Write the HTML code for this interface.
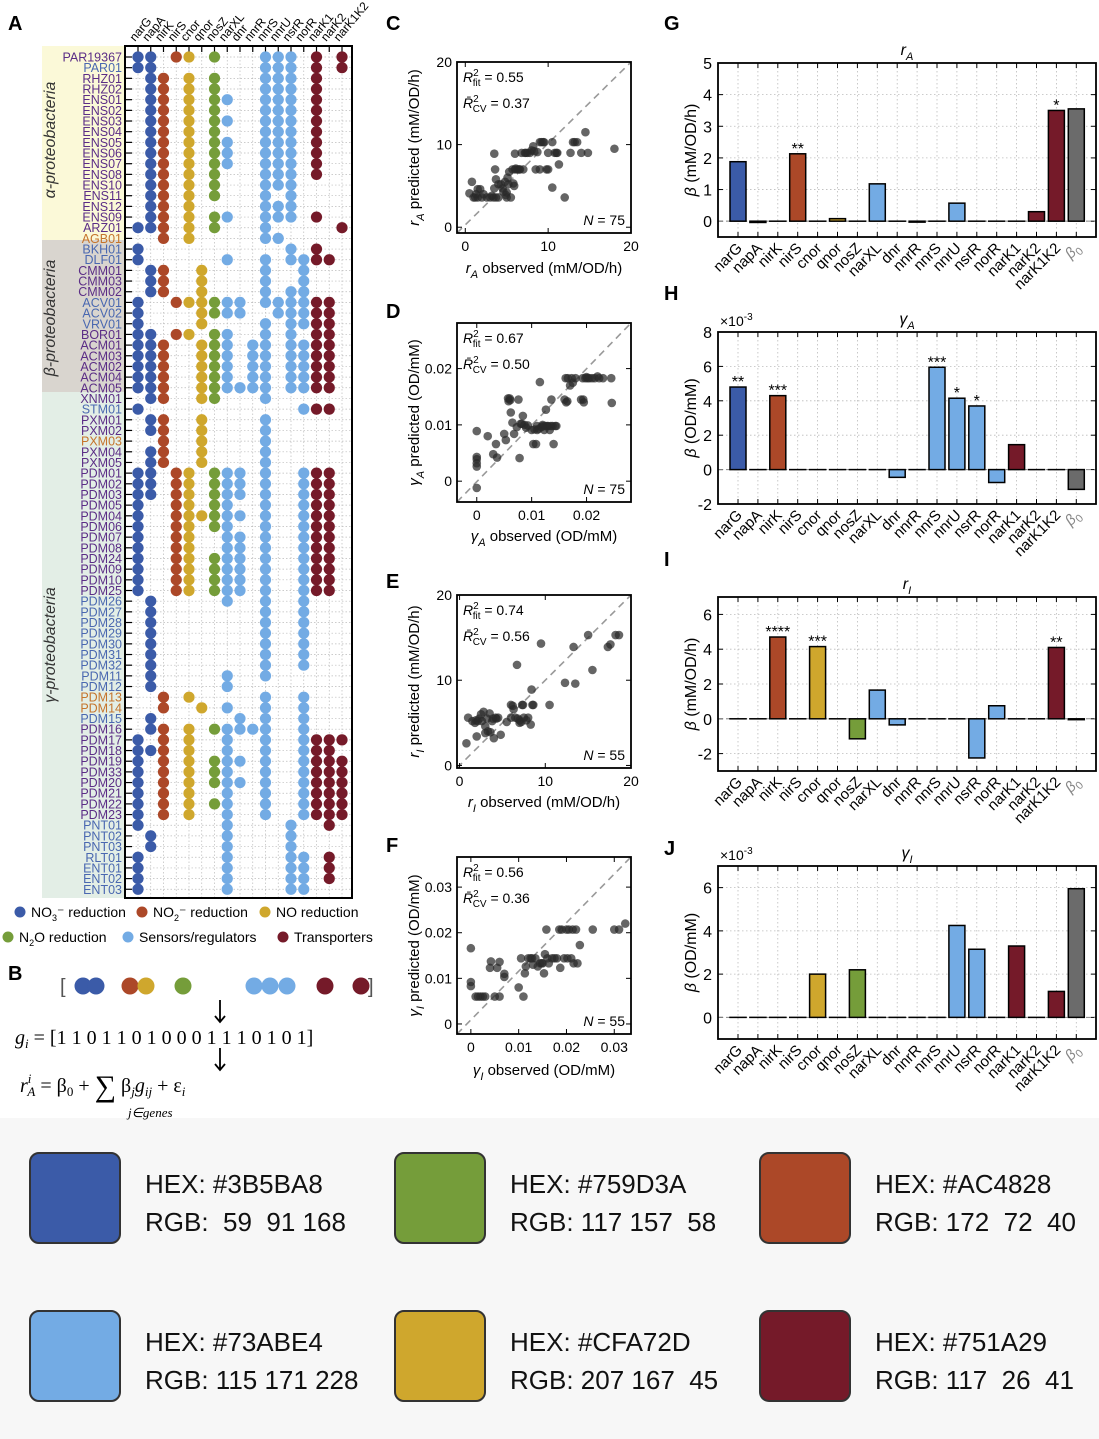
<!DOCTYPE html>
<html><head><meta charset="utf-8"><style>
html,body{margin:0;padding:0;background:#fff;}
svg{display:block;font-family:"Liberation Sans",sans-serif;}
</style></head><body>
<svg id="fig" width="1099" height="1439" viewBox="0 0 1099 1439" xmlns="http://www.w3.org/2000/svg">
<rect x="0" y="1118" width="1099" height="321" fill="#f7f7f7"/>
</svg>
<script>
// ---------------- DATA ----------------
const genes = ['narG','napA','nirK','nirS','cnor','qnor','nosZ','narXL','dnr','nnrR','nnrS','nnrU','nsrR','norR','narK1','narK2','narK1K2'];
const geneColors = ['#3B5BA8','#3B5BA8','#AC4828','#AC4828','#CFA72D','#CFA72D','#759D3A','#73ABE4','#73ABE4','#73ABE4','#73ABE4','#73ABE4','#73ABE4','#73ABE4','#751A29','#751A29','#751A29'];
const strains = ['PAR19367','PAR01','RHZ01','RHZ02','ENS01','ENS02','ENS03','ENS04','ENS05','ENS06','ENS07','ENS08','ENS10','ENS11','ENS12','ENS09','ARZ01','AGB01','BKH01','DLF01','CMM01','CMM03','CMM02','ACV01','ACV02','VRV01','BOR01','ACM01','ACM03','ACM02','ACM04','ACM05','XNM01','STM01','PXM01','PXM02','PXM03','PXM04','PXM05','PDM01','PDM02','PDM03','PDM05','PDM04','PDM06','PDM07','PDM08','PDM24','PDM09','PDM10','PDM25','PDM26','PDM27','PDM28','PDM29','PDM30','PDM31','PDM32','PDM11','PDM12','PDM13','PDM14','PDM15','PDM16','PDM17','PDM18','PDM19','PDM33','PDM20','PDM21','PDM22','PDM23','PNT01','PNT02','PNT03','RLT01','ENT01','ENT02','ENT03'];
const strainColor = {b:'#4a68b0',p:'#5b2d86',o:'#c5742c'};
const strainCls = ('p'+'b'+'p'.repeat(15)+'o'+'bb'+'ppp'+'bbb'+'p'+'ppppp'+'p'+'b'+'pp'+'o'+'pp'+'p'.repeat(12)+'b'.repeat(9)+'oo'+'b'+'p'+'p'.repeat(8)+'b'.repeat(7)).split('');
const presence = [
'0,1,3,4,6,10,11,12,14,16','0,1,10,11,12,14,16','1,2,4,6,10,11,12,14','1,2,4,6,10,11,12,14','1,2,4,6,7,10,11,12,14','1,2,4,6,10,11,12,14','1,2,4,6,7,10,11,12,14','1,2,4,6,10,11,12,14','1,2,4,6,7,10,11,12,14','1,2,4,6,7,10,11,12,14','1,2,4,6,7,10,11,12,14','1,2,4,6,10,11,12,14','1,2,4,6,10,11,12','1,2,4,6,10,12','1,2,4,10,11,12','1,2,4,6,7,10,11,12,14','0,1,2,4,6,10,16','2,4,10,11',
'0,12,14','0,7,10,12,13,14,15','1,2,5,10,13','1,2,5,10,13','1,2,5,10,12,13','0,3,4,5,6,7,8,10,11,12,13,14,15','0,5,6,7,8,11,12,13,14,15','0,5,10,12,13,14,15','0,1,3,4,6,7,10,12,14,15','0,1,2,5,6,7,9,10,12,13,14,15','0,1,2,5,6,7,9,10,12,13,14,15','0,1,2,5,6,7,9,10,12,13,14,15','0,1,2,5,6,7,9,10,12,13,14,15','0,1,2,5,6,7,8,9,10,12,13,14,15',
'1,2,5,6,10','0,13,14,15','1,2,5,10','1,2,5,10','2,5,10','1,2,5,10','1,2,5,10','0,1,3,4,6,7,8,10,13,14,15','0,1,3,4,6,7,8,10,13,14,15','0,1,3,4,6,7,8,10,13,14,15','0,3,4,6,7,10,13,14,15','0,3,4,5,6,7,8,10,13,14,15','0,3,4,6,7,10,13,14,15','0,3,4,7,8,10,13,14,15','0,3,4,7,8,10,13,14,15','0,3,4,6,7,8,10,13,14,15','0,3,4,6,7,8,10,13,14,15','0,3,4,6,7,8,10,13,14,15','0,3,4,6,7,8,10,13,14,15',
'1,7,10,13','1,10,13','1,10,13','1,10,13','1,10,13','1,10,13','1,10,13','1,7,10','1,7','2,4,10,13','2,5,7,10,13','1,8,10,13','1,2,4,6,7,8,9,10,13','0,2,4,7,10,13,14,15,16','0,1,2,4,7,10,13,14,15','0,2,4,6,7,8,10,13,14,15,16','0,2,4,6,7,10,13,14,15,16','0,2,4,6,7,8,10,13,14,15,16','0,2,4,7,10,13,14,15,16','0,2,4,6,7,10,13,14,15,16','0,2,4,7,10,13,14,15,16','0,7,12,15','1,7,12','1,7,12','0,7,12,13,15','0,7,12,13,15','0,7,12,13,15','0,7,12,13'];

const cPoints = [[0.5,4.1],[0.8,5.5],[1,3.6],[1.2,3.6],[1.5,3.6],[1.5,4.6],[1.8,4.6],[2,3.6],[3,3.6],[3.5,8.9],[3.5,4.7],[3.6,7],[3.7,5.8],[3.7,3.6],[4,3.6],[4,5.2],[4.3,5.2],[4.5,4.7],[4.8,5.5],[5,3.6],[5,4.2],[5.2,5.2],[5.5,3.6],[5.3,6.7],[5.7,7],[5.8,5.3],[6,7],[6,8.9],[6.3,7],[6.6,7],[6.8,9],[7,7],[7.2,9],[7.5,9],[7.8,9],[8,9.3],[8.2,9.8],[8.5,7],[8.7,9.1],[9,10.3],[9.2,10.3],[9,7],[9.5,10.3],[9.8,7],[10,7],[10,9],[10.5,4.8],[10.5,10.3],[10.8,9],[11,9],[11.3,7.6],[12,3.6],[12.7,9],[13,10.3],[13.5,10.3],[14,9],[14.5,11.5],[14.8,9],[18,9.5],[2.2,4],[1.3,4],[3.2,3.8],[4.6,4.3],[5.1,6],[6.5,7],[7.3,9],[9.4,10.3],[11.1,9],[13.2,10.3],[8.3,9.2],[3.4,3.6],[2.6,3.6],[4.9,3.9],[5.9,5],[6.1,7.1]];
const dPoints = [[0,-1.2],[0,2.6],[0,3.2],[0,3.9],[0,4.3],[0,8.9],[2,8],[3,4.8],[3.5,6.6],[3.7,4.2],[5,8.4],[5.3,7.3],[5.7,14.7],[5.8,14.2],[6,14.7],[6.2,12.2],[6.5,10.4],[6.8,8.4],[7.3,9.6],[7.6,14.5],[7.8,4.1],[8,10.2],[8.4,11.6],[8.7,10],[9.3,9.9],[10,9.1],[10.3,6.6],[10.8,6.6],[11,9.8],[11.3,9.3],[11.5,17.6],[11.8,9.6],[12,10],[12.3,9.1],[12.6,12.7],[12.8,9.8],[13,9.8],[13.3,9.1],[13.6,14.5],[13.8,9.8],[14,6.6],[14.3,9.8],[16,14.5],[16.2,18.3],[16.3,14],[16.6,18.3],[17,17],[17.3,18.3],[17.5,17.5],[18,18.3],[19,14.5],[19.3,18.3],[19.5,14],[19.8,18.3],[20,18.5],[20.5,18.3],[21,18.3],[21.5,18.3],[22,18.6],[22.3,18.3],[23,18.3],[24.5,18.3],[24.6,13.9],[12,9.8],[12.5,9.8],[13.5,9.8],[14.5,9.8],[11,9.1],[8.2,10.2],[9,9.5],[16.5,14.2],[20.2,18.3],[19.4,14.5],[6.1,14.4],[10.5,9.2]];
const ePoints = [[0.8,2.6],[1,5.6],[1.5,5.2],[1.8,5],[2,3.4],[2.3,5.5],[2.6,5.2],[2.8,6.3],[3,3.8],[3,4.6],[3.2,5.5],[3.5,6.1],[3.6,3.9],[3.8,5.2],[4,3.2],[4.2,5.6],[4.5,5.6],[4.8,3.6],[5.5,5.1],[6,5.6],[6,7.1],[6.3,6.6],[6.5,5.6],[6.7,11.8],[7,5.3],[7,5],[7.3,7.1],[7.5,5.6],[7.8,5.3],[8,5.6],[8.3,4.8],[8.4,8.9],[8.5,7.1],[9.5,14.3],[10.5,7.1],[12.3,9.7],[13.3,13.9],[13.5,9.6],[15,15.3],[15.5,11.2],[17.3,13.9],[17.6,14.2],[18.2,15.3],[18.6,15.3],[2.1,5.2],[2.5,6],[3.3,4],[4.3,5.5],[6.8,5.5],[7.2,5.1],[6.2,7],[7.4,7.1],[8.6,7.1],[3.9,5.5],[1.9,5.3]];
const fPoints = [[0,16.6],[0,9.2],[0,8.3],[1,6],[1.5,6],[2,6],[2.5,6],[3,6],[4,12.3],[4.2,13.7],[5,6],[5.5,12.3],[6,13.6],[6,6],[7,11],[7,10.3],[10,8],[10.5,14.4],[11,6],[11.3,11.1],[11.5,12.6],[12,14.4],[12.5,14.4],[13,13],[13.5,14.4],[14,12.6],[14.5,13.3],[15,13.3],[15.3,11.1],[15.5,15.3],[15.8,20.7],[16,14.4],[16.3,13.3],[17,14.4],[18,14.4],[18.5,20.7],[18.7,12.3],[19,20.7],[19.5,14.4],[20,20.7],[20.5,20.7],[21,14.4],[21.3,20.7],[21.5,13.3],[22,20.7],[22.3,13.3],[22.8,17.3],[25.5,20.7],[30,20.7],[31,20.7],[32.3,22],[12.8,14.4],[17.5,14.4],[20.2,14.4],[14.8,13.3]];

const barCats = ['narG','napA','nirK','nirS','cnor','qnor','nosZ','narXL','dnr','nnrR','nnrS','nnrU','nsrR','norR','narK1','narK2','narK1K2','β0'];
const gValues = [1.88,-0.04,0,2.13,0,0.08,0,1.18,0,-0.03,0,0.57,0,0,0,0.3,3.5,3.55];
const gStars = ['','','','**','','','','','','','','','','','','','*',''];
const hValues = [4.8,0,4.3,0,0,0,0,0,-0.45,0,5.95,4.15,3.7,-0.75,1.45,0,0,-1.15];
const hStars = ['**','','***','','','','','','','','***','*','*','','','','',''];
const iValues = [0,0,4.7,0,4.15,0,-1.15,1.65,-0.35,0,0,0,-2.25,0.75,0,0,4.1,-0.05];
const iStars = ['','','****','','***','','','','','','','','','','','','**',''];
const jValues = [0,0,0,0,2.0,0,2.2,0,0,0,0,4.25,3.15,0,3.3,0,1.2,5.95];

const swatchHex = ['#3B5BA8','#759D3A','#AC4828','#73ABE4','#CFA72D','#751A29'];
const swatchRgb = ['RGB:  59  91 168','RGB: 117 157  58','RGB: 172  72  40','RGB: 115 171 228','RGB: 207 167  45','RGB: 117  26  41'];

// ---------------- DRAW ----------------
const NS='http://www.w3.org/2000/svg';
const svg=document.getElementById('fig');
function mk(tag,attrs,parent,text){const e=document.createElementNS(NS,tag);for(const k in attrs)e.setAttribute(k,attrs[k]);if(text!==undefined)e.textContent=text;(parent||svg).appendChild(e);return e;}

[['A',8,30],['B',8,980],['C',386,30],['D',386,318],['E',386,588],['F',386,852],['G',664,30],['H',664,300],['I',664,566],['J',664,855]].forEach(p=>{
  const t=mk('text',{x:p[1],y:p[2],'font-size':20,'font-weight':'bold'},svg,p[0]);
  
  
});

// ---- Panel A ----
const AL=125,AR=352,AT=46,AB=898,col0=138,colStep=12.75,row0=57,rowStep=10.67;
const bands=[[42,AT,240,'#fbf9d8'],[42,240,392,'#d9d5cf'],[42,392,AB,'#e3eee6']];
bands.forEach((b,i)=>{
  const r=mk('rect',{x:b[0],y:b[1],width:AL-b[0],height:b[2]-b[1],fill:b[3]});
  
  
});
[['α-proteobacteria',55,140],['β-proteobacteria',55,318],['γ-proteobacteria',55,645]].forEach(g=>{
  const t=mk('text',{x:g[1],y:g[2],'font-size':16,'font-style':'italic','text-anchor':'middle',fill:'#333',transform:`rotate(-90 ${g[1]} ${g[2]})`},svg,g[0]);
  
  
});
const frameA=mk('rect',{x:AL,y:AT,width:AR-AL,height:AB-AT,fill:'#fff',stroke:'none'});


genes.forEach((g,i)=>{
  const x=col0+i*colStep;
  const l=mk('line',{x1:x,y1:AT,x2:x,y2:AB,stroke:'#bbb','stroke-width':0.7,'stroke-dasharray':'1.5 2'});
  
  
  const tk=mk('line',{x1:x,y1:AT,x2:x,y2:AT+6,stroke:'#000','stroke-width':1.2});
  
  
  const t=mk('text',{x:x-3,y:AT-4,'font-size':12,transform:`rotate(-50 ${x-3} ${AT-4})`},svg,g);
  
  
});
strains.forEach((s,r)=>{
  const y=row0+r*rowStep;
  const l=mk('line',{x1:AL,y1:y,x2:AR,y2:y,stroke:'#bbb','stroke-width':0.7,'stroke-dasharray':'1.5 2'});
  
  
  const tk=mk('line',{x1:AL,y1:y,x2:AL+7,y2:y,stroke:'#000','stroke-width':1.2});
  
  
  const t=mk('text',{x:AL-3,y:y+4.5,'font-size':12.5,'text-anchor':'end',fill:strainColor[strainCls[r]]},svg,s);
  
  
  presence[r].split(',').forEach(ci=>{
    const c=+ci;
    const d=mk('circle',{cx:col0+c*colStep,cy:y,r:5.6,fill:geneColors[c]});
    
    
  });
});
const frameA2=mk('rect',{x:AL,y:AT,width:AR-AL,height:AB-AT,fill:'none',stroke:'#000','stroke-width':2});



const legend=[['#3B5BA8',20,917,'NO','3','⁻ reduction'],['#AC4828',142,917,'NO','2','⁻ reduction'],['#CFA72D',265,917,'NO reduction','',''],['#759D3A',8,942,'N','2','O reduction'],['#73ABE4',128,942,'Sensors/regulators','',''],['#751A29',283,942,'Transporters','','']];
legend.forEach(L=>{
  const c=mk('circle',{cx:L[1],cy:L[2]-5,r:5.5,fill:L[0]});
  
  
  const t=mk('text',{x:L[1]+11,y:L[2],'font-size':14});
  
  
  mk('tspan',{},t,L[3]);
  if(L[4]){mk('tspan',{'font-size':9,dy:4},t,L[4]);mk('tspan',{'font-size':14,dy:-4},t,L[5]);}
});

const bTxt=mk('text',{x:60,y:993,'font-size':20,fill:'#555'},svg,'[');


const bTxt2=mk('text',{x:368,y:993,'font-size':20,fill:'#555'},svg,']');


[[83,'#3B5BA8'],[96,'#3B5BA8'],[130,'#AC4828'],[146,'#CFA72D'],[183,'#759D3A'],[254,'#73ABE4'],[270,'#73ABE4'],[287,'#73ABE4'],[325,'#751A29'],[361,'#751A29']].forEach(p=>{
  const c=mk('circle',{cx:p[0],cy:986,r:8.5,fill:p[1]});
  
  
});
[[1000,1022],[1048,1070]].forEach(a=>{
  const l=mk('path',{d:`M220 ${a[0]} L220 ${a[1]} M215 ${a[1]-6} L220 ${a[1]} L225 ${a[1]-6}`,stroke:'#000','stroke-width':1.8,fill:'none'});
  
  
});
const gEq=mk('text',{x:15,y:1044,'font-size':20,'font-family':'Liberation Serif,serif'});


mk('tspan',{'font-style':'italic'},gEq,'g');mk('tspan',{'font-size':13,dy:4,'font-style':'italic'},gEq,'i');
mk('tspan',{dy:-4},gEq,' = [1 1 0 1 1 0 1 0 0 0 1 1 1 0 1 0 1]');
const rEq=mk('text',{x:20,y:1092,'font-size':20,'font-family':'Liberation Serif,serif'});


mk('tspan',{'font-style':'italic'},rEq,'r');mk('tspan',{'font-size':13,dy:-9,'font-style':'italic'},rEq,'i');
mk('tspan',{'font-size':13,dx:-4,dy:13,'font-style':'italic'},rEq,'A');
mk('tspan',{dy:-4},rEq,' = β');mk('tspan',{'font-size':13,dy:4},rEq,'0');
mk('tspan',{dy:-4},rEq,' + ');
mk('tspan',{'font-size':30,dy:4},rEq,'∑');
mk('tspan',{dy:-4},rEq,'  β');mk('tspan',{'font-size':13,dy:4,'font-style':'italic'},rEq,'j');
mk('tspan',{dy:-4,'font-style':'italic'},rEq,'g');mk('tspan',{'font-size':13,dy:4,'font-style':'italic'},rEq,'ij');
mk('tspan',{dy:-4},rEq,' + ε');mk('tspan',{'font-size':13,dy:4,'font-style':'italic'},rEq,'i');
const sumSub=mk('text',{x:128,y:1117,'font-size':13,'font-family':'Liberation Serif,serif','font-style':'italic'},svg,'j∈genes');



function scatter(name,P,pts,xt,yt,xl,yl,txt,nLabel,xTitle,yTitle,xTitleY){
  const sx=v=>P.l+(v-P.x0)/(P.x1-P.x0)*(P.r-P.l);
  const sy=v=>P.b-(v-P.y0)/(P.y1-P.y0)*(P.b-P.t);
  const d=mk('line',{x1:P.l,y1:P.b,x2:P.r,y2:P.t,stroke:'#999','stroke-width':1.6,'stroke-dasharray':'7 5'});
  
  
  pts.forEach(p=>{
    const c=mk('circle',{cx:sx(p[0]),cy:sy(p[1]),r:4.3,fill:'#2a2a2a','fill-opacity':0.72});
    
    
  });
  const fr=mk('rect',{x:P.l,y:P.t,width:P.r-P.l,height:P.b-P.t,fill:'none',stroke:'#000','stroke-width':1.8});
  
  
  xt.forEach((v,i)=>{
    const x=sx(v);
    const a=mk('line',{x1:x,y1:P.b,x2:x,y2:P.b-5,stroke:'#000'});
    
    
    const b=mk('line',{x1:x,y1:P.t,x2:x,y2:P.t+5,stroke:'#000'});
    
    
    const t=mk('text',{x:x,y:P.b+18,'font-size':14,'text-anchor':'middle'},svg,xl[i]);
    
    
  });
  yt.forEach((v,i)=>{
    const y=sy(v);
    const a=mk('line',{x1:P.l,y1:y,x2:P.l+5,y2:y,stroke:'#000'});
    
    
    const b=mk('line',{x1:P.r,y1:y,x2:P.r-5,y2:y,stroke:'#000'});
    
    
    const t=mk('text',{x:P.l-5,y:y+5,'font-size':14,'text-anchor':'end'},svg,yl[i]);
    
    
  });
  const r1=mk('text',{x:P.l+6,y:P.t+20,'font-size':14});
  
  
  mk('tspan',{'font-style':'italic'},r1,'R');mk('tspan',{'font-size':10,dy:-6},r1,'2');
  mk('tspan',{'font-size':10,dx:-6,dy:10},r1,'fit');mk('tspan',{dy:-4},r1,' = '+txt[0]);
  const r2=mk('text',{x:P.l+6,y:P.t+46,'font-size':14});
  
  
  mk('tspan',{'font-style':'italic'},r2,'R̄');mk('tspan',{'font-size':10,dy:-6},r2,'2');
  mk('tspan',{'font-size':10,dx:-6,dy:10},r2,'CV');mk('tspan',{dy:-4},r2,' = '+txt[1]);
  const n=mk('text',{x:P.r-6,y:P.b-8,'font-size':14,'text-anchor':'end'});
  
  
  mk('tspan',{'font-style':'italic'},n,'N');mk('tspan',{},n,' = '+nLabel);
  const cx=(P.l+P.r)/2, cy=(P.t+P.b)/2;
  const xtl=mk('text',{x:cx,y:xTitleY,'font-size':15,'text-anchor':'middle'});
  
  
  mk('tspan',{'font-style':'italic'},xtl,xTitle[0]);mk('tspan',{'font-size':11,dy:5,'font-style':'italic'},xtl,xTitle[1]);mk('tspan',{dy:-5},xtl,' '+xTitle[2]);
  const ytl=mk('text',{x:419,y:cy,'font-size':15,'text-anchor':'middle',transform:`rotate(-90 419 ${cy})`});
  
  
  mk('tspan',{'font-style':'italic'},ytl,yTitle[0]);mk('tspan',{'font-size':11,dy:5,'font-style':'italic'},ytl,yTitle[1]);mk('tspan',{dy:-5},ytl,' '+yTitle[2]);
}
scatter('scatter-ra',{l:457,r:631,t:62,b:233,x0:-1,x1:20,y0:-0.7,y1:20},cPoints,[0,10,20],[0,10,20],['0','10','20'],['0','10','20'],['0.55','0.37'],'75',['r','A','observed (mM/OD/h)'],['r','A','predicted (mM/OD/h)'],273);
scatter('scatter-gamma-a',{l:457,r:631,t:323,b:502,x0:-3.6,x1:28.1,y0:-3.7,y1:28.1},dPoints,[0,10,20],[0,10,20],['0','0.01','0.02'],['0','0.01','0.02'],['0.67','0.50'],'75',['γ','A','observed (OD/mM)'],['γ','A','predicted (OD/mM)'],541);
scatter('scatter-ri',{l:457,r:631,t:595,b:768,x0:-0.3,x1:20,y0:-0.3,y1:20},ePoints,[0,10,20],[0,10,20],['0','10','20'],['0','10','20'],['0.74','0.56'],'55',['r','I','observed (mM/OD/h)'],['r','I','predicted (mM/OD/h)'],807);
scatter('scatter-gamma-i',{l:457,r:631,t:857,b:1034,x0:-2.9,x1:33.5,y0:-2.2,y1:36.6},fPoints,[0,10,20,30],[0,10,20,30],['0','0.01','0.02','0.03'],['0','0.01','0.02','0.03'],['0.56','0.36'],'55',['γ','I','observed (OD/mM)'],['γ','I','predicted (OD/mM)'],1075);

const barColors=geneColors.concat(['#6b6b6b']);
function bars(name,P,vals,stars,yt,title,ytitle,exp){
  const L=718,R=1096,x0=738,step=19.9,bw=16;
  const sy=v=>P.b-(v-P.y0)/(P.y1-P.y0)*(P.b-P.t);
  barCats.forEach((c,i)=>{
    const x=x0+i*step;
    const g=mk('line',{x1:x,y1:P.t,x2:x,y2:P.b,stroke:'#bbb','stroke-width':0.8,'stroke-dasharray':'1.5 2.5'});
    
    
  });
  yt.forEach(v=>{
    const y=sy(v);
    const g=mk('line',{x1:L,y1:y,x2:R,y2:y,stroke:'#bbb','stroke-width':0.8,'stroke-dasharray':'1.5 2.5'});
    
    
    const t=mk('text',{x:L-6,y:y+6,'font-size':16,'text-anchor':'end'},svg,String(v));
    
    
    const a=mk('line',{x1:L,y1:y,x2:L+5,y2:y,stroke:'#000'});
    
    
    const b=mk('line',{x1:R,y1:y,x2:R-5,y2:y,stroke:'#000'});
    
    
  });
  const z=mk('line',{x1:L,y1:sy(0),x2:R,y2:sy(0),stroke:'#888','stroke-width':1,'stroke-dasharray':'5 3'});
  
  
  barCats.forEach((c,i)=>{
    const x=x0+i*step, v=vals[i];
    const y1=sy(Math.max(v,0)), y2=sy(Math.min(v,0));
    const r=mk('rect',{x:x-bw/2,y:y1,width:bw,height:Math.max(y2-y1,0.01),fill:barColors[i],stroke:'#000','stroke-width':1.5});
    
    
    const a=mk('line',{x1:x,y1:P.b,x2:x,y2:P.b-5,stroke:'#000'});
    
    
    const b=mk('line',{x1:x,y1:P.t,x2:x,y2:P.t+5,stroke:'#000'});
    
    
    const lx=x+5, ly=P.b+12;
    const t=mk('text',{x:lx,y:ly,'font-size':15,'text-anchor':'end',fill:c==='β0'?'#888':'#000',transform:`rotate(-45 ${lx} ${ly})`});
    
    
    if(c==='β0'){mk('tspan',{'font-style':'italic'},t,'β');mk('tspan',{'font-size':11,dy:4},t,'0');}
    else t.textContent=c;
    if(stars&&stars[i]){
      const s=mk('text',{x:x,y:y1,'font-size':16,'text-anchor':'middle'},svg,stars[i]);
      
      
    }
  });
  const fr=mk('rect',{x:L,y:P.t,width:R-L,height:P.b-P.t,fill:'none',stroke:'#000','stroke-width':1.8});
  
  
  const tt=mk('text',{x:907,y:P.t-8,'font-size':16,'text-anchor':'middle','font-style':'italic'});
  
  
  mk('tspan',{},tt,title[0]);mk('tspan',{'font-size':11,dy:5},tt,title[1]);
  const cy=(P.t+P.b)/2;
  const yl=mk('text',{x:696,y:cy,'font-size':16,'text-anchor':'middle',transform:`rotate(-90 696 ${cy})`});
  
  
  mk('tspan',{'font-style':'italic'},yl,'β');mk('tspan',{},yl,' '+ytitle);
  if(exp){
    const e=mk('text',{x:720,y:P.t-6,'font-size':14});
    
    
    mk('tspan',{},e,'×10');mk('tspan',{'font-size':10,dy:-6},e,'-3');
  }
}
bars('bar-ra',{t:63,b:237,y0:-0.5,y1:5},gValues,gStars,[0,1,2,3,4,5],['r','A'],'(mM/OD/h)',false);
bars('bar-gamma-a',{t:332,b:504,y0:-2,y1:8},hValues,hStars,[-2,0,2,4,6,8],['γ','A'],'(OD/mM)',true);
bars('bar-ri',{t:597,b:771,y0:-3,y1:7},iValues,iStars,[-2,0,2,4,6],['r','I'],'(mM/OD/h)',false);
bars('bar-gamma-i',{t:866,b:1039,y0:-1,y1:7},jValues,null,[0,2,4,6],['γ','I'],'(OD/mM)',true);

swatchHex.forEach((h,i)=>{
  const cx=[30,395,760][i%3], cy=[1153,1311][Math.floor(i/3)];
  const r=mk('rect',{x:cx,y:cy,width:90,height:90,rx:9,fill:h,stroke:'#333','stroke-width':2});
  
  
  const t1=mk('text',{x:cx+115,y:cy+40,'font-size':26,fill:'#111'},svg,'HEX: '+h);
  
  
  const t2=mk('text',{x:cx+115,y:cy+78,'font-size':26,fill:'#111'},svg,swatchRgb[i]);
  
  
  t2.style.whiteSpace='pre';
});
</script>
</body></html>
